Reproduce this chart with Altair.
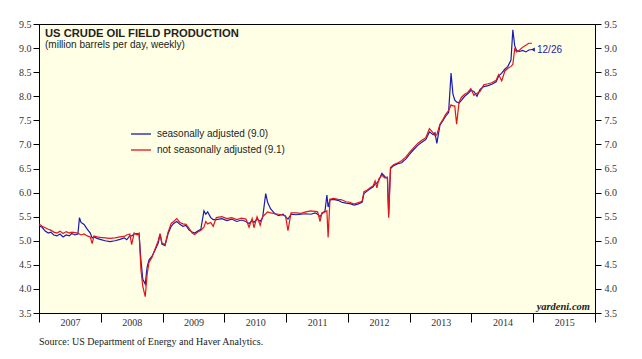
import altair as alt
import pandas as pd

# decimal-year positions of the weekly readings (sampled)
t = [2007.00, 2007.05, 2007.10, 2007.15, 2007.19, 2007.24, 2007.29, 2007.34, 2007.39, 2007.44,
     2007.49, 2007.53, 2007.58, 2007.63, 2007.655, 2007.68, 2007.73, 2007.78, 2007.83, 2007.86,
     2007.89, 2007.94, 2007.99, 2008.07, 2008.15, 2008.23, 2008.31, 2008.38, 2008.42, 2008.47,
     2008.50, 2008.54, 2008.59, 2008.62, 2008.65, 2008.68, 2008.72, 2008.75, 2008.78, 2008.83,
     2008.87, 2008.93, 2008.96, 2008.99, 2009.04, 2009.09, 2009.14, 2009.18, 2009.23, 2009.28,
     2009.33, 2009.38, 2009.43, 2009.48, 2009.52, 2009.57, 2009.62, 2009.67, 2009.70, 2009.73,
     2009.78, 2009.82, 2009.87, 2009.96, 2010.04, 2010.12, 2010.20, 2010.28, 2010.35, 2010.40,
     2010.45, 2010.48, 2010.53, 2010.58, 2010.62, 2010.67, 2010.70, 2010.75, 2010.82, 2010.88,
     2010.95, 2010.99, 2011.03, 2011.08, 2011.16, 2011.24, 2011.32, 2011.40, 2011.47, 2011.51,
     2011.55, 2011.58, 2011.63, 2011.66, 2011.68, 2011.71, 2011.77, 2011.84, 2011.90, 2011.97,
     2012.03, 2012.10, 2012.16, 2012.23, 2012.26, 2012.31, 2012.36, 2012.41, 2012.44, 2012.47,
     2012.50, 2012.55, 2012.60, 2012.64, 2012.66, 2012.69, 2012.74, 2012.81, 2012.87, 2012.94,
     2013.00, 2013.07, 2013.13, 2013.19, 2013.26, 2013.32, 2013.38, 2013.41, 2013.44, 2013.49,
     2013.54, 2013.58, 2013.63, 2013.67, 2013.70, 2013.73, 2013.76, 2013.80, 2013.84, 2013.89,
     2013.94, 2013.99, 2014.04, 2014.09, 2014.14, 2014.20, 2014.27, 2014.33, 2014.40, 2014.44,
     2014.49, 2014.54, 2014.59, 2014.64, 2014.67, 2014.70, 2014.73, 2014.78, 2014.83, 2014.88,
     2014.93, 2014.98]

# seasonally adjusted (million barrels per day)
sa = [5.31, 5.28, 5.20, 5.16, 5.18, 5.12, 5.10, 5.14, 5.08, 5.12,
      5.10, 5.15, 5.12, 5.14, 5.48, 5.38, 5.34, 5.24, 5.16, 5.06,
      5.08, 5.05, 5.03, 5.00, 4.98, 5.00, 5.03, 5.06, 5.02, 5.10,
      5.10, 5.14, 5.15, 5.14, 4.60, 4.20, 4.10, 4.45, 4.60, 4.68,
      4.78, 4.95, 5.14, 4.93, 4.90, 5.15, 5.30, 5.36, 5.40, 5.34,
      5.30, 5.32, 5.22, 5.18, 5.16, 5.20, 5.24, 5.62, 5.55, 5.60,
      5.48, 5.44, 5.44, 5.46, 5.42, 5.45, 5.40, 5.43, 5.40, 5.36,
      5.42, 5.38, 5.45, 5.40, 5.48, 5.98, 5.80, 5.66, 5.56, 5.52,
      5.55, 5.50, 5.45, 5.55, 5.54, 5.55, 5.56, 5.55, 5.58, 5.55,
      5.50, 5.56, 5.62, 5.95, 5.70, 5.85, 5.86, 5.84, 5.80, 5.78,
      5.77, 5.74, 5.76, 5.80, 5.98, 6.03, 6.08, 6.12, 6.18, 6.20,
      6.25, 6.40, 6.33, 6.30, 5.55, 6.50, 6.56, 6.60, 6.62, 6.70,
      6.80, 6.90, 6.98, 7.04, 7.10, 7.26, 7.20, 7.24, 7.02, 7.40,
      7.50, 7.58, 7.66, 8.48, 8.05, 7.92, 7.88, 7.86, 7.92, 8.00,
      8.05, 8.12, 8.10, 8.00, 8.14, 8.20, 8.22, 8.25, 8.30, 8.42,
      8.48, 8.56, 8.62, 8.75, 9.38, 9.05, 8.95, 8.93, 8.95, 8.92,
      8.96, 8.97]

# not seasonally adjusted (million barrels per day)
nsa = [5.35, 5.30, 5.27, 5.24, 5.22, 5.18, 5.16, 5.20, 5.15, 5.19,
       5.16, 5.18, 5.17, 5.16, 5.14, 5.12, 5.14, 5.10, 5.08, 4.94,
       5.10, 5.08, 5.07, 5.06, 5.05, 5.06, 5.08, 5.09, 5.12, 5.14,
       4.92, 5.16, 5.12, 5.16, 4.40, 4.05, 3.84, 4.30, 4.55, 4.66,
       4.80, 5.00, 5.15, 4.95, 4.92, 5.18, 5.36, 5.40, 5.46, 5.38,
       5.35, 5.34, 5.26, 5.16, 5.13, 5.18, 5.22, 5.28, 5.40, 5.35,
       5.38, 5.30, 5.48, 5.50, 5.46, 5.48, 5.44, 5.47, 5.45, 5.28,
       5.46, 5.27, 5.50, 5.32, 5.50, 5.56, 5.60, 5.58, 5.56, 5.55,
       5.53, 5.52, 5.21, 5.58, 5.58, 5.57, 5.60, 5.62, 5.61, 5.60,
       5.40, 5.58, 5.60, 5.62, 5.07, 5.86, 5.88, 5.86, 5.85, 5.81,
       5.80, 5.76, 5.79, 5.82, 6.02, 6.05, 6.10, 6.14, 6.24, 6.10,
       6.28, 6.36, 6.30, 6.32, 5.48, 6.52, 6.58, 6.62, 6.66, 6.74,
       6.84, 6.94, 7.02, 7.08, 7.14, 7.33, 7.24, 7.18, 7.20, 7.42,
       7.52, 7.62, 7.70, 7.82, 7.80, 7.80, 7.42, 7.88, 7.98, 8.04,
       8.08, 8.16, 8.02, 8.06, 8.10, 8.24, 8.26, 8.28, 8.33, 8.45,
       8.32, 8.52, 8.58, 8.62, 8.66, 8.98, 8.92, 8.96, 9.02, 9.06,
       9.10, 9.10]

series_names = ["seasonally adjusted (9.0)", "not seasonally adjusted (9.1)"]
series_colors = ["#1a1ab4", "#e3141c"]
y_ticks = [3.5, 4.0, 4.5, 5.0, 5.5, 6.0, 6.5, 7.0, 7.5, 8.0, 8.5, 9.0, 9.5]
x_ticks = [2007, 2008, 2009, 2010, 2011, 2012, 2013, 2014, 2015, 2016]

df = pd.concat([
    pd.DataFrame({"t": t, "v": sa, "series": series_names[0]}),
    pd.DataFrame({"t": t, "v": nsa, "series": series_names[1]}),
])
last = pd.DataFrame({"t": [t[-1]], "v": [sa[-1]], "lab": ["12/26"]})

xscale = alt.Scale(domain=[2007, 2016], nice=False, zero=False)
yscale = alt.Scale(domain=[3.5, 9.5], nice=False, zero=False)

xaxis = alt.Axis(values=x_ticks, title=None, grid=False, tickSize=9, tickColor="black",
                 domainColor="black", labelOffset=31, labelPadding=0, labelBaseline="middle",
                 labelOverlap=False, labelBound=False, labelFlush=False,
                 labelExpr="datum.value == 2016 ? '' : format(datum.value, 'd')",
                 labelFont="Liberation Serif", labelFontSize=10, labelColor="#333")
yaxis_left = alt.Axis(values=y_ticks, format=".1f", title=None, grid=False, tickSize=6,
                      tickColor="black", domainColor="black", labelPadding=2,
                      labelOverlap=False, labelBound=False, labelFlush=False,
                      labelFont="Liberation Serif", labelFontSize=10, labelColor="#333")
yaxis_right = alt.Axis(values=y_ticks, format=".1f", title=None, grid=False, tickSize=6,
                       orient="right", tickColor="black", domainColor="black", labelPadding=3,
                       labelOverlap=False, labelBound=False, labelFlush=False,
                       labelFont="Liberation Serif", labelFontSize=10, labelColor="#333")

X = alt.X("t:Q", scale=xscale, axis=xaxis)
Y = alt.Y("v:Q", scale=yscale, axis=yaxis_left)

color = alt.Color("series:N",
                  scale=alt.Scale(domain=series_names, range=series_colors),
                  legend=alt.Legend(orient="none", legendX=91, legendY=99, title=None,
                                    symbolType="stroke", symbolSize=400, symbolStrokeWidth=1.3,
                                    labelFont="Liberation Sans", labelFontSize=10,
                                    labelColor="#222", labelOffset=5, rowPadding=-4))

base = alt.Chart(df)
blue = base.transform_filter(alt.datum.series == series_names[0]).mark_line(
    strokeWidth=1.2).encode(x=X, y=Y, color=color)
red = base.transform_filter(alt.datum.series == series_names[1]).mark_line(
    strokeWidth=1.2).encode(x=X, y=Y, color=color)
right_axis = base.mark_line(opacity=0).encode(
    x=X,
    y=alt.Y("v:Q", scale=yscale, axis=yaxis_right),
    detail="series:N",
)
end_mark = alt.Chart(last).mark_point(shape="triangle-left", filled=True, size=18,
                                      color=series_colors[0], opacity=1, xOffset=1).encode(
    x=X, y=Y)
end_lab = alt.Chart(last).mark_text(align="left", baseline="middle", dx=5, dy=0,
                                    font="Liberation Sans", fontSize=10,
                                    color=series_colors[0]).encode(x=X, y=Y, text="lab:N")

title = alt.Chart(pd.DataFrame({"s": ["US CRUDE OIL FIELD PRODUCTION"]})).mark_text(
    align="left", baseline="alphabetic", font="Liberation Sans", fontSize=11.2,
    fontWeight="bold", color="#222").encode(x=alt.value(6), y=alt.value(12.7), text="s:N")
subtitle = alt.Chart(pd.DataFrame({"s": ["(million barrels per day, weekly)"]})).mark_text(
    align="left", baseline="alphabetic", font="Liberation Sans", fontSize=10,
    color="#222").encode(x=alt.value(6), y=alt.value(24), text="s:N")
brand = alt.Chart(pd.DataFrame({"s": ["yardeni.com"]})).mark_text(
    align="right", baseline="middle", font="Liberation Serif", fontSize=10.5,
    fontWeight="bold", fontStyle="italic", color="#222").encode(
    x=alt.value(551), y=alt.value(282.7), text="s:N")
source = alt.Chart(pd.DataFrame({"s": ["Source: US Department of Energy and Haver Analytics."]})).mark_text(
    align="left", baseline="middle", font="Liberation Serif", fontSize=10,
    color="#222").encode(x=alt.value(0), y=alt.value(317.7), text="s:N")

main = alt.layer(blue, red, end_mark, end_lab)
chart = alt.layer(main, right_axis, title, subtitle, brand, source).resolve_scale(
    y="independent"
).properties(
    width=556, height=289,
    autosize=alt.AutoSizeParams(type="none"),
    padding={"left": 31, "top": 16, "right": 39, "bottom": 38},
    background="white",
).configure_view(fill="#ffffe5", stroke="black", strokeWidth=1)

chart.save("out.html", embed_options={"renderer": "svg", "actions": False})
